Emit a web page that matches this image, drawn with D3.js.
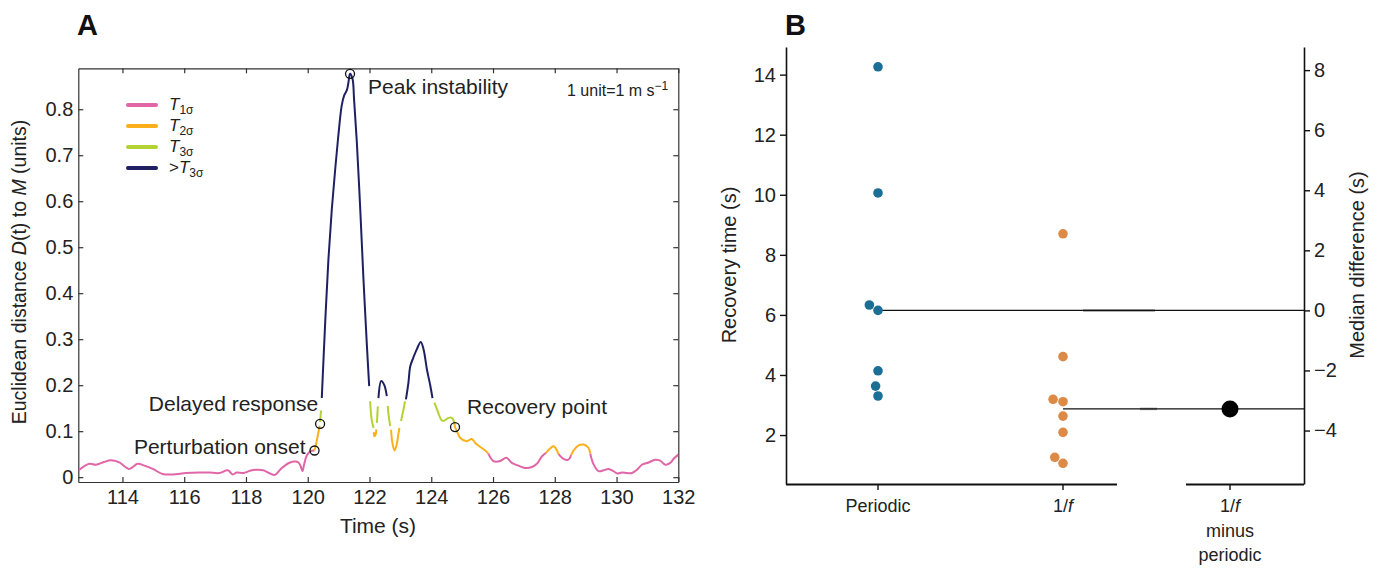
<!DOCTYPE html>
<html>
<head>
<meta charset="utf-8">
<script src="https://cdn.jsdelivr.net/npm/d3@7"></script>
<style>
  body { margin: 0; background: #fff; }
  svg { font-family: "Liberation Sans", Arial, Helvetica, sans-serif; }
</style>
</head>
<body>
<svg id="fig" width="1376" height="570"></svg>
<script>
// ---------- data: panel A ----------
const levelPrefix = ["", "", "", ">"];
const levelSub = ["1σ", "2σ", "3σ", "3σ"];
const levelColors = ["#e066a8", "#fbb01b", "#b3d334", "#1e2062"];

const xTicksA = [114, 116, 118, 120, 122, 124, 126, 128, 130, 132];
const yTicksA = [0, 0.1, 0.2, 0.3, 0.4, 0.5, 0.6, 0.7, 0.8];

// trace D(t), split in runs by threshold level (0 = T1σ ... 3 = >T3σ)
const traceSegments = [
  { lvl: 0, pts: [[112.58,0.015],[112.93,0.029],[113.14,0.027],[113.40,0.033],[113.63,0.037],[113.90,0.032],
    [114.22,0.018],[114.49,0.029],[114.71,0.025],[114.98,0.018],[115.30,0.007],[115.63,0.006],[116.06,0.009],
    [116.49,0.010],[116.81,0.010],[117.14,0.009],[117.41,0.015],[117.57,0.006],[117.70,0.010],[117.92,0.009],
    [118.13,0.014],[118.35,0.016],[118.56,0.015],[118.78,0.008],[118.94,0.005],[119.16,0.020],[119.43,0.032],
    [119.59,0.034],[119.70,0.032],[119.77,0.024],[119.83,0.013],[119.88,0.027],[119.97,0.047],[120.08,0.056],
    [120.22,0.058]] },
  { lvl: 1, pts: [[120.22,0.058],[120.28,0.075],[120.34,0.096],[120.39,0.112]] },
  { lvl: 2, pts: [[120.40,0.120],[120.43,0.145]] },
  { lvl: 3, pts: [[120.455,0.172],[120.56,0.329],[120.67,0.474],[120.78,0.583],[120.89,0.670],[120.99,0.742],
    [121.10,0.808],[121.18,0.830],[121.27,0.842],[121.32,0.859],[121.37,0.877],[121.45,0.866],[121.50,0.822],
    [121.59,0.728],[121.70,0.583],[121.80,0.437],[121.91,0.293],[121.99,0.198]] },
  { lvl: 2, pts: [[122.02,0.165],[122.07,0.125],[122.13,0.107]] },
  { lvl: 1, pts: [[122.14,0.098],[122.16,0.089],[122.20,0.093],[122.22,0.104]] },
  { lvl: 2, pts: [[122.24,0.118],[122.27,0.154]] },
  { lvl: 3, pts: [[122.29,0.172],[122.38,0.209],[122.48,0.200],[122.56,0.176]] },
  { lvl: 2, pts: [[122.59,0.155],[122.61,0.140],[122.67,0.111]] },
  { lvl: 1, pts: [[122.70,0.103],[122.74,0.075],[122.81,0.058],[122.88,0.071],[122.94,0.096],[122.97,0.107]] },
  { lvl: 2, pts: [[123.02,0.122],[123.10,0.147],[123.15,0.165]] },
  { lvl: 3, pts: [[123.18,0.169],[123.26,0.205],[123.32,0.241],[123.42,0.260],[123.53,0.278],[123.66,0.294],
    [123.75,0.278],[123.86,0.234],[123.96,0.202],[124.04,0.172]] },
  { lvl: 2, pts: [[124.10,0.162],[124.21,0.143],[124.32,0.125],[124.39,0.122],[124.56,0.129],[124.67,0.129],
    [124.75,0.118]] },
  { lvl: 1, pts: [[124.75,0.118],[124.77,0.109],[124.83,0.100],[124.94,0.085],[125.15,0.078],[125.31,0.083],
    [125.42,0.075],[125.58,0.066],[125.75,0.058],[125.85,0.051]] },
  { lvl: 0, pts: [[125.85,0.051],[126.01,0.035],[126.23,0.035],[126.43,0.042],[126.61,0.031],[126.82,0.025],
    [127.04,0.020],[127.26,0.022],[127.42,0.029],[127.58,0.045],[127.72,0.053]] },
  { lvl: 1, pts: [[127.72,0.053],[127.83,0.061],[127.96,0.067],[128.07,0.058],[128.12,0.050]] },
  { lvl: 0, pts: [[128.12,0.050],[128.28,0.040],[128.44,0.038],[128.53,0.048]] },
  { lvl: 1, pts: [[128.53,0.048],[128.61,0.058],[128.77,0.069],[128.93,0.071],[129.09,0.064],[129.15,0.051]] },
  { lvl: 0, pts: [[129.15,0.051],[129.25,0.029],[129.42,0.013],[129.58,0.015],[129.74,0.018],[129.90,0.013],
    [130.03,0.008],[130.17,0.010],[130.34,0.009],[130.50,0.009],[130.66,0.016],[130.82,0.027],[131.04,0.032],
    [131.25,0.038],[131.41,0.036],[131.58,0.027],[131.74,0.031],[131.85,0.040],[132.00,0.049]] }
];

const markerNames = ["Perturbation onset", "Delayed response", "Peak instability", "Recovery point"];
const markerT = [120.22, 120.40, 121.37, 124.77];
const markerD = [0.058, 0.116, 0.877, 0.109];

// ---------- data: panel B ----------
const periodicTimes = [14.26, 10.06, 6.33, 6.15, 4.14, 3.63, 3.30];
const oneOverFTimes = [8.70, 4.61, 3.19, 3.11, 2.63, 2.09, 1.26, 1.06];
const yTicksBL = [2, 4, 6, 8, 10, 12, 14];
const yTicksBR = [-4, -2, 0, 2, 4, 6, 8];

const svg = d3.select("#fig");
svg.append("rect").attr("width", 1376).attr("height", 570).attr("fill", "#fff");

// ========================
// Panel A
// ========================
const x = d3.scaleLinear().domain([112.57, 132]).range([78.3, 678.3]);
const y = d3.scaleLinear().domain([-0.0105, 0.889]).range([482, 68.3]);

const gA = svg.append("g");

function styleAxis(g) {
  g.selectAll(".domain").attr("stroke", "#333").attr("stroke-width", 1.2);
  g.selectAll(".tick line").attr("stroke", "#333").attr("stroke-width", 1.2);
  g.selectAll(".tick text").attr("fill", "#222").attr("font-family", null).style("font-size", "20px");
}

gA.append("g")
  .attr("transform", "translate(0,482)")
  .call(d3.axisBottom(x).tickValues(xTicksA).tickSizeInner(-5).tickSizeOuter(0).tickPadding(8).tickFormat(d3.format("d")))
  .call(styleAxis);

gA.append("g")
  .attr("transform", "translate(0,68.3)")
  .call(d3.axisTop(x).tickValues(xTicksA).tickSizeInner(-5).tickSizeOuter(0).tickFormat(""))
  .call(styleAxis);

gA.append("g")
  .attr("transform", "translate(78.3,0)")
  .call(d3.axisLeft(y).tickValues(yTicksA).tickSizeInner(-5).tickSizeOuter(0).tickPadding(5)
    .tickFormat(d => d === 0 ? "0" : d3.format(".1f")(d)))
  .call(styleAxis);

gA.append("g")
  .attr("transform", "translate(678.3,0)")
  .call(d3.axisRight(y).tickValues(yTicksA).tickSizeInner(-5).tickSizeOuter(0).tickFormat(""))
  .call(styleAxis);

svg.append("defs").append("clipPath").attr("id", "clipA")
  .append("rect").attr("x", 78.3).attr("y", 68.3).attr("width", 600).attr("height", 413.7);

const line = d3.line()
  .x(d => x(d[0]))
  .y(d => y(d[1]))
  .curve(d3.curveCatmullRom.alpha(0.5));

gA.append("g").attr("clip-path", "url(#clipA)")
  .selectAll("path")
  .data(traceSegments)
  .enter()
  .append("path")
  .attr("fill", "none")
  .attr("stroke", d => levelColors[d.lvl])
  .attr("stroke-width", 2)
  .attr("d", d => line(d.pts));

// event markers
gA.selectAll("circle.marker")
  .data(markerNames)
  .enter()
  .append("circle")
  .attr("class", "marker")
  .attr("cx", (d, i) => x(markerT[i]))
  .attr("cy", (d, i) => y(markerD[i]))
  .attr("r", 4.5)
  .attr("fill", "none")
  .attr("stroke", "#111")
  .attr("stroke-width", 1.3);

// label offsets relative to each marker
const labelOffsets = [[-9, 4, "end"], [-2, -13, "end"], [18, 20, "start"], [12, -13, "start"]];
gA.selectAll("text.mlabel")
  .data(markerNames)
  .enter()
  .append("text")
  .attr("class", "mlabel")
  .attr("x", (d, i) => x(markerT[i]) + labelOffsets[i][0])
  .attr("y", (d, i) => y(markerD[i]) + labelOffsets[i][1])
  .attr("text-anchor", (d, i) => labelOffsets[i][2])
  .attr("fill", "#222")
  .style("font-size", "21px")
  .text(d => d);

// legend
const legend = gA.append("g");
levelColors.forEach((c, i) => {
  const ly = 105 + i * 21;
  legend.append("line")
    .attr("x1", 128).attr("x2", 156)
    .attr("y1", ly).attr("y2", ly)
    .attr("stroke", c).attr("stroke-width", 4).attr("stroke-linecap", "round");
  const t = legend.append("text").attr("x", 169).attr("y", ly + 5).attr("fill", "#222").style("font-size", "17px");
  t.append("tspan").text(levelPrefix[i]);
  t.append("tspan").style("font-style", "italic").text("T");
  t.append("tspan").attr("dy", 4).style("font-size", "12px").text(levelSub[i]);
});

// unit note
const unit = gA.append("text").attr("x", 567).attr("y", 96).attr("fill", "#222").style("font-size", "16px");
unit.append("tspan").text("1 unit=1 m s");
unit.append("tspan").attr("dy", -6).style("font-size", "12px").text("\u22121");

// axis titles
gA.append("text")
  .attr("x", 378).attr("y", 533)
  .attr("text-anchor", "middle").attr("fill", "#222").style("font-size", "21px")
  .text("Time (s)");

const yl = gA.append("text")
  .attr("transform", "translate(26,272) rotate(-90)")
  .attr("text-anchor", "middle").attr("fill", "#222").style("font-size", "19.5px");
yl.append("tspan").text("Euclidean distance ");
yl.append("tspan").style("font-style", "italic").text("D");
yl.append("tspan").text("(t) to ");
yl.append("tspan").style("font-style", "italic").text("M");
yl.append("tspan").text(" (units)");

svg.append("text").attr("x", 77).attr("y", 35).style("font-size", "29px").style("font-weight", "bold").attr("fill", "#111").text("A");

// ========================
// Panel B
// ========================
const gB = svg.append("g");
const yL = d3.scaleLinear().domain([0.37, 14.92]).range([484, 47]);
const periodicMedian = d3.median(periodicTimes);
const oneOverFMedian = d3.median(oneOverFTimes);
const medianDiff = oneOverFMedian - periodicMedian;
const yR = d3.scaleLinear().domain([0.37 - periodicMedian, 14.92 - periodicMedian]).range([484, 47]);

const xGroup = d3.scalePoint().domain(["Periodic", "1/f"]).range([878, 1063]);
const xDiff = 1230;

function styleAxisB(g) {
  g.selectAll(".domain").attr("stroke", "#111").attr("stroke-width", 1.6);
  g.selectAll(".tick line").attr("stroke", "#111").attr("stroke-width", 1.4);
  g.selectAll(".tick text").attr("fill", "#222").attr("font-family", null).style("font-size", "20px");
}

gB.append("g")
  .attr("transform", "translate(786,0)")
  .call(d3.axisLeft(yL).tickValues(yTicksBL).tickSizeInner(6).tickSizeOuter(0).tickPadding(4))
  .call(styleAxisB);

gB.append("g")
  .attr("transform", "translate(1304,0)")
  .call(d3.axisRight(yR).tickValues(yTicksBR).tickSizeInner(6).tickSizeOuter(0).tickPadding(4))
  .call(styleAxisB);

// bottom axis, broken in two pieces
gB.append("line").attr("x1", 786).attr("x2", 1117).attr("y1", 484.5).attr("y2", 484.5)
  .attr("stroke", "#111").attr("stroke-width", 2);
gB.append("line").attr("x1", 1186).attr("x2", 1304).attr("y1", 484.5).attr("y2", 484.5)
  .attr("stroke", "#111").attr("stroke-width", 2);
[xGroup("Periodic"), xGroup("1/f"), xDiff].forEach(px => {
  gB.append("line").attr("x1", px).attr("x2", px).attr("y1", 484).attr("y2", 490)
    .attr("stroke", "#111").attr("stroke-width", 1.4);
});

// reference lines for the medians
gB.append("line").attr("x1", 1083).attr("x2", 1155)
  .attr("y1", yL(periodicMedian)).attr("y2", yL(periodicMedian))
  .attr("stroke", "#999").attr("stroke-width", 2.5);
gB.append("line").attr("x1", 1140).attr("x2", 1157)
  .attr("y1", yL(oneOverFMedian)).attr("y2", yL(oneOverFMedian))
  .attr("stroke", "#999").attr("stroke-width", 2.5);
gB.append("line").attr("x1", xGroup("Periodic")).attr("x2", 1304)
  .attr("y1", yL(periodicMedian)).attr("y2", yL(periodicMedian))
  .attr("stroke", "#111").attr("stroke-width", 1.3);
gB.append("line").attr("x1", xGroup("1/f")).attr("x2", 1304)
  .attr("y1", yL(oneOverFMedian)).attr("y2", yL(oneOverFMedian))
  .attr("stroke", "#111").attr("stroke-width", 1.3);

// simple swarm: stack overlapping points to the left
function dodge(values, cx, r) {
  const placed = [];
  values.slice().sort((a, b) => a - b).forEach(v => {
    const cy = yL(v);
    let px = cx;
    placed.forEach(p => {
      const dy = Math.abs(p.cy - cy);
      if (p.cx === cx && dy < 2 * r) px = cx - Math.sqrt(4 * r * r - dy * dy);
    });
    placed.push({ v, cx: px, cy });
  });
  return placed;
}

const dotR = 4.8;
gB.selectAll("circle.per")
  .data(dodge(periodicTimes, xGroup("Periodic"), 5.1))
  .enter().append("circle").attr("class", "per")
  .attr("cx", d => d.cx).attr("cy", d => d.cy).attr("r", dotR).attr("fill", "#1b6f95");

gB.selectAll("circle.pink")
  .data(dodge(oneOverFTimes, xGroup("1/f"), 5.1))
  .enter().append("circle").attr("class", "pink")
  .attr("cx", d => d.cx).attr("cy", d => d.cy).attr("r", dotR).attr("fill", "#de8a47");

gB.append("circle")
  .attr("cx", xDiff).attr("cy", yR(medianDiff)).attr("r", 8.5).attr("fill", "#000");

// category labels
const catStyle = t => t.attr("text-anchor", "middle").attr("fill", "#222").style("font-size", "18px");
gB.append("text").attr("x", xGroup("Periodic")).attr("y", 512).call(catStyle).text("Periodic");
const lf = gB.append("text").attr("x", xGroup("1/f")).attr("y", 512).call(catStyle);
lf.append("tspan").text("1/");
lf.append("tspan").style("font-style", "italic").text("f");
const ld = gB.append("text").attr("x", xDiff).attr("y", 512).call(catStyle);
ld.append("tspan").text("1/");
ld.append("tspan").style("font-style", "italic").text("f");
gB.append("text").attr("x", xDiff).attr("y", 537).call(catStyle).text("minus");
gB.append("text").attr("x", xDiff).attr("y", 561).call(catStyle).text("periodic");

// axis titles
gB.append("text")
  .attr("transform", "translate(736,265) rotate(-90)")
  .attr("text-anchor", "middle").attr("fill", "#222").style("font-size", "20px")
  .text("Recovery time (s)");
gB.append("text")
  .attr("transform", "translate(1364,265) rotate(-90)")
  .attr("text-anchor", "middle").attr("fill", "#222").style("font-size", "20px")
  .text("Median difference (s)");

svg.append("text").attr("x", 785).attr("y", 35).style("font-size", "29px").style("font-weight", "bold").attr("fill", "#111").text("B");
</script>
</body>
</html>
